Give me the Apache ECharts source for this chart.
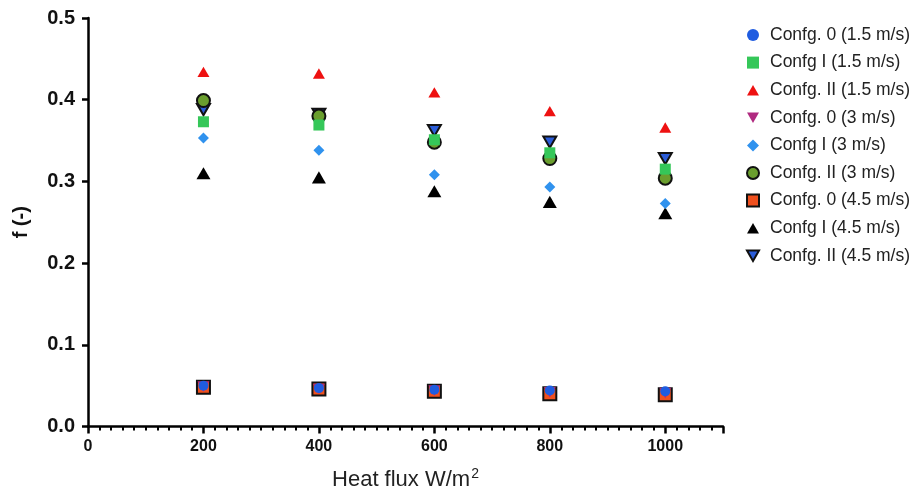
<!DOCTYPE html>
<html lang="en">
<head>
    <meta charset="UTF-8">
    <title>Friction factor vs heat flux</title>
    <script src="https://cdn.jsdelivr.net/npm/echarts@6/dist/echarts.min.js"></script>
    <style>
        html, body { margin: 0; padding: 0; background: #fff; }
        #chart { width: 917px; height: 496px; }
    </style>
</head>
<body>
<div id="chart"></div>
<script>
    // heat flux values (W/m2)
    var heatFlux = [200, 400, 600, 800, 1000];
    var yTicks = [0, 0.1, 0.2, 0.3, 0.4, 0.5];

    var seriesNames = [
        'Confg. 0 (1.5 m/s)', 'Confg I (1.5 m/s)', 'Confg. II (1.5 m/s)',
        'Confg. 0 (3 m/s)', 'Confg I (3 m/s)', 'Confg. II (3 m/s)',
        'Confg. 0 (4.5 m/s)', 'Confg I (4.5 m/s)', 'Confg. II (4.5 m/s)'
    ];

    var c0_15  = [0.050, 0.047, 0.045, 0.044, 0.043];
    var cI_15  = [0.373, 0.369, 0.351, 0.335, 0.315];
    var cII_15 = [0.434, 0.432, 0.409, 0.386, 0.366];
    var c0_3   = [0.049, 0.046, 0.044, 0.042, 0.041];
    var cI_3   = [0.353, 0.338, 0.308, 0.293, 0.273];
    var cII_3  = [0.399, 0.380, 0.348, 0.328, 0.304];
    var c0_45  = [0.048, 0.046, 0.043, 0.040, 0.039];
    var cI_45  = [0.310, 0.305, 0.288, 0.275, 0.261];
    var cII_45 = [0.388, 0.382, 0.362, 0.348, 0.328];

    var allValues = [c0_15, cI_15, cII_15, c0_3, cI_3, cII_3, c0_45, cI_45, cII_45];

    // triangles drawn as paths so the legend shows the same shape
    var triUp = 'path://M1,0L2,1.732L0,1.732Z';
    var triDown = 'path://M0,0L2,0L1,1.732Z';

    // marker look per series
    var styles = [
        {symbol: 'circle',  size: 10, color: '#1f5ce0', border: null},
        {symbol: 'rect',    size: 11, color: '#35c759', border: null},
        {symbol: triUp,     size: 12, color: '#ee1111', border: null},
        {symbol: triDown,   size: 12, color: '#b02a80', border: null},
        {symbol: 'diamond', size: 11, color: '#3092ee', border: null},
        {symbol: 'circle',  size: 13, color: '#6a9e2e', border: '#111'},
        {symbol: 'rect',    size: 13, color: '#f0501e', border: '#111'},
        {symbol: triUp,     size: 14, color: '#000000', border: null},
        {symbol: triDown,   size: 13, color: '#2a5cd8', border: '#111'}
    ];

    var series = [];
    for (var i = 0; i < seriesNames.length; i++) {
        var st = styles[i];
        var pts = [];
        for (var k = 0; k < heatFlux.length; k++) {
            pts.push([heatFlux[k], allValues[i][k]]);
        }
        series.push({
            name: seriesNames[i],
            type: 'scatter',
            symbol: st.symbol,
            symbolSize: st.size,
            symbolKeepAspect: true,
            z: 20 - i,
            itemStyle: {
                color: st.color,
                opacity: 1,
                borderColor: st.border || st.color,
                borderWidth: st.border ? 2 : 0
            },
            data: pts
        });
    }

    var chart = echarts.init(document.getElementById('chart'));
    chart.setOption({
        animation: false,
        backgroundColor: '#ffffff',
        grid: {left: 88, right: 194, top: 18, bottom: 69},
        legend: {
            orient: 'vertical',
            left: 741,
            top: 21,
            itemWidth: 12,
            itemHeight: 12,
            itemGap: 9.6,
            symbolKeepAspect: true,
            textStyle: {fontFamily: 'Liberation Sans', fontSize: 17.5, color: '#222', padding: [0, 0, 0, 6]},
            data: seriesNames
        },
        xAxis: {
            type: 'value',
            min: 0,
            max: 1100,
            interval: 200,
            name: 'Heat flux W/m{sup|2}',
            nameLocation: 'middle',
            nameGap: 41,
            nameTextStyle: {
                fontFamily: 'Liberation Sans', fontSize: 22, color: '#222',
                rich: {sup: {fontFamily: 'Liberation Sans', fontSize: 14, color: '#222', verticalAlign: 'top', padding: [0, 0, 11, 1]}}
            },
            axisLine: {show: true, onZero: false, lineStyle: {color: '#000', width: 2.5}},
            axisTick: {show: true, length: 7, lineStyle: {color: '#000', width: 2.5}},
            minorTick: {show: true, splitNumber: 10, length: 4, lineStyle: {color: '#000', width: 2}},
            splitLine: {show: false},
            axisLabel: {
                showMaxLabel: false,
                margin: 12,
                fontFamily: 'Liberation Sans', fontWeight: 'bold', fontSize: 16, color: '#111',
                formatter: function (v) { return String(v); }
            }
        },
        yAxis: {
            type: 'value',
            min: yTicks[0],
            max: yTicks[yTicks.length - 1],
            interval: 0.1,
            name: 'f (-)',
            nameLocation: 'middle',
            nameGap: 57,
            nameTextStyle: {fontFamily: 'Liberation Sans', fontWeight: 'bold', fontSize: 20, color: '#111'},
            axisLine: {show: true, onZero: false, lineStyle: {color: '#000', width: 2.5}},
            axisTick: {show: true, length: 6, lineStyle: {color: '#000', width: 2.5}},
            splitLine: {show: false},
            axisLabel: {
                margin: 13,
                fontFamily: 'Liberation Sans', fontWeight: 'bold', fontSize: 20, color: '#111',
                formatter: function (v) { return v.toFixed(1); }
            }
        },
        series: series
    });
</script>
</body>
</html>
